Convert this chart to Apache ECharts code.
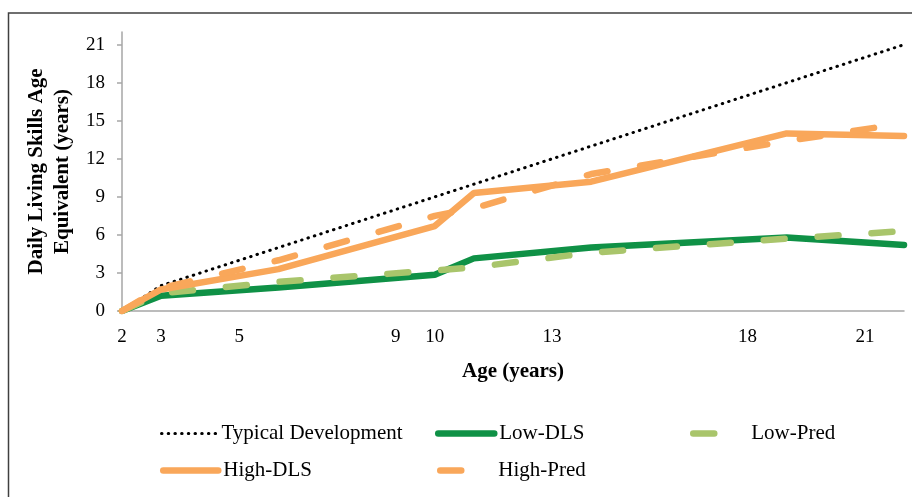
<!DOCTYPE html>
<html>
<head>
<meta charset="utf-8">
<script src="https://cdn.jsdelivr.net/npm/echarts@6/dist/echarts.min.js"></script>
<style>
  html, body { margin: 0; padding: 0; background: #fff; }
  #chart { width: 912px; height: 497px; }
</style>
</head>
<body>
<div id="chart"></div>
<script>
// ages (x) where the curves bend
var ages = [2, 3, 6, 10, 11, 14, 19, 22];
var lowDLS = [0, 1.2, 1.85, 2.85, 4.15, 5.0, 5.8, 5.2];
var lowPred = [0, 1.4, 2.3, 3.2, 3.45, 4.6, 5.7, 6.3];
var highDLS = [0, 1.7, 3.3, 6.7, 9.3, 10.2, 14.0, 13.8];
var highPred = [0, 1.8, 4.0, 7.5, 8.1, 10.8, 13.4, 14.8];

var typicalAges = [2, 3, 22];
var typicalVals = [0, 2, 21];

var xTickLabels = [2, 3, 5, 9, 10, 13, 18, 21];
var yTickLabels = [0, 3, 6, 9, 12, 15, 18, 21];

var FONT = '"Liberation Serif", "Times New Roman", serif';
var GREEN = '#0f9146';
var LIGHT_GREEN = '#a9c56b';
var ORANGE = '#f9a75a';

function pairs(xs, ys) {
    var out = [];
    for (var i = 0; i < xs.length; i++) {
        out.push([xs[i], ys[i]]);
    }
    return out;
}

function legendItem(name, left, top, itemWidth, lineWidth) {
    return {
        data: [name],
        left: left,
        top: top,
        itemWidth: itemWidth,
        itemHeight: 14,
        selectedMode: false,
        // hide the little circle drawn on line-series icons
        itemStyle: { color: 'rgba(0,0,0,0)', borderWidth: 0, opacity: 0 },
        lineStyle: { width: lineWidth },
        textStyle: {
            fontFamily: FONT,
            fontSize: 21,
            color: '#000'
        }
    };
}

var chart = echarts.init(document.getElementById('chart'));
var option = {
    animation: false,
    backgroundColor: '#fff',
    graphic: [{
        type: 'rect',
        shape: { x: 8.5, y: 13, width: 940, height: 520 },
        style: { fill: 'none', stroke: '#404040', lineWidth: 1.5 },
        z: -10
    }],
    legend: [
        legendItem('Typical Development', 155, 418, 55, 3),
        legendItem('Low-DLS', 430, 418, 56, 6.5),
        legendItem('Low-Pred', 685, 418, 53, 6.5),
        legendItem('High-DLS', 155, 455, 55, 6.5),
        legendItem('High-Pred', 432, 455, 53, 6.5)
    ],
    grid: {
        left: 122,
        right: 8,
        top: 32,
        bottom: 186
    },
    xAxis: {
        type: 'value',
        min: 2,
        max: 22,
        interval: 1,
        name: 'Age (years)',
        nameLocation: 'middle',
        nameGap: 50,
        nameTextStyle: {
            fontFamily: FONT,
            fontSize: 21,
            fontWeight: 'bold',
            color: '#000'
        },
        axisLine: { lineStyle: { color: '#a6a6a6', width: 1.5 } },
        axisTick: { show: false },
        splitLine: { show: false },
        axisLabel: {
            customValues: xTickLabels,
            margin: 17,
            fontFamily: FONT,
            fontSize: 19,
            color: '#000'
        }
    },
    yAxis: {
        type: 'value',
        min: 0,
        max: 22,
        interval: 3,
        name: 'Daily Living Skills Age\nEquivalent (years)',
        nameLocation: 'middle',
        nameRotate: 90,
        nameGap: 46,
        nameTextStyle: {
            fontFamily: FONT,
            fontSize: 21,
            fontWeight: 'bold',
            lineHeight: 26,
            color: '#000'
        },
        axisLine: { show: true, lineStyle: { color: '#a6a6a6', width: 1.5 } },
        axisTick: {
            show: true,
            customValues: yTickLabels,
            length: 5,
            lineStyle: { color: '#a6a6a6', width: 1.5 }
        },
        splitLine: { show: false },
        axisLabel: {
            customValues: yTickLabels,
            margin: 17,
            fontFamily: FONT,
            fontSize: 19,
            color: '#000'
        }
    },
    series: [{
        name: 'Typical Development',
        type: 'line',
        symbol: 'none',
        data: pairs(typicalAges, typicalVals),
        lineStyle: { color: '#000', width: 3, type: [0.5, 6.2], cap: 'round' },
        itemStyle: { color: '#000' }
    }, {
        name: 'Low-DLS',
        type: 'line',
        symbol: 'none',
        data: pairs(ages, lowDLS),
        lineStyle: { color: GREEN, width: 6.5, cap: 'round' },
        itemStyle: { color: GREEN }
    }, {
        name: 'Low-Pred',
        type: 'line',
        symbol: 'none',
        data: pairs(ages, lowPred),
        lineStyle: { color: LIGHT_GREEN, width: 6.5, type: [21, 33], cap: 'round' },
        itemStyle: { color: LIGHT_GREEN }
    }, {
        name: 'High-DLS',
        type: 'line',
        symbol: 'none',
        data: pairs(ages, highDLS),
        lineStyle: { color: ORANGE, width: 6.5, cap: 'round' },
        itemStyle: { color: ORANGE }
    }, {
        name: 'High-Pred',
        type: 'line',
        symbol: 'none',
        data: pairs(ages, highPred),
        lineStyle: { color: ORANGE, width: 6.5, type: [21, 33], cap: 'round' },
        itemStyle: { color: ORANGE }
    }]
};
chart.setOption(option);
</script>
</body>
</html>
